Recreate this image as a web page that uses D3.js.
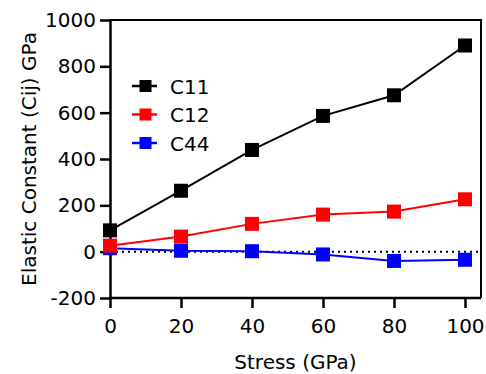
<!DOCTYPE html>
<html>
<head>
<meta charset="utf-8">
<script src="https://cdn.jsdelivr.net/npm/d3@7"></script>
<style>
  html, body { margin: 0; padding: 0; background: #fff; }
  svg { display: block; font-family: "DejaVu Sans", Verdana, sans-serif; }
</style>
</head>
<body>
<svg id="chart" width="486" height="374"></svg>
<script>
// Stress levels (GPa)
const stress = [0, 20, 40, 60, 80, 100];
// Elastic constants (GPa) at each stress level
const c11 = [92, 263, 439, 586, 675, 890];
const c12 = [26, 65, 120, 160, 173, 226];
const c44 = [15, 4, 2, -12, -40, -35];

const xTicks = [0, 20, 40, 60, 80, 100];
const yTicks = [-200, 0, 200, 400, 600, 800, 1000];

const series = [
  { name: "C11", values: c11, color: "#000000" },
  { name: "C12", values: c12, color: "#ff0000" },
  { name: "C44", values: c44, color: "#0000ff" }
];

const svg = d3.select("#chart");
const plotLeft = 110, plotRight = 481, plotTop = 20, plotBottom = 298;

const x = d3.scaleLinear().domain([0, 100]).range([plotLeft, 465]);
const y = d3.scaleLinear().domain([-200, 1000]).range([plotBottom, plotTop]);

// plain integer labels with an ASCII hyphen for negatives
const plain = d => String(d);

// frame: top and right edges
svg.append("path")
  .attr("d", `M${plotLeft},${plotTop}H${plotRight}V${plotBottom}`)
  .attr("fill", "none").attr("stroke", "#000").attr("stroke-width", 2);

// dotted zero line
svg.append("line")
  .attr("x1", plotLeft).attr("x2", plotRight)
  .attr("y1", y(0)).attr("y2", y(0))
  .attr("stroke", "#000").attr("stroke-width", 2)
  .attr("stroke-dasharray", "2,4");

// axes
const xAxis = svg.append("g")
  .attr("transform", `translate(0,${plotBottom})`)
  .call(d3.axisBottom(x).tickValues(xTicks).tickFormat(plain)
    .tickSize(10).tickPadding(11).tickSizeOuter(0));
xAxis.select(".domain").attr("d", `M${plotLeft},0H${plotRight}`);

const yAxis = svg.append("g")
  .attr("transform", `translate(${plotLeft},0)`)
  .call(d3.axisLeft(y).tickValues(yTicks).tickFormat(plain)
    .tickSize(10).tickPadding(4).tickSizeOuter(0));

svg.selectAll(".domain").attr("stroke-width", 2.5);
svg.selectAll(".tick line").attr("stroke-width", 2.5);
svg.selectAll(".tick text").attr("font-size", 20).attr("font-family", "DejaVu Sans").attr("fill", "#000");

// axis titles
svg.append("text")
  .attr("x", (plotLeft + plotRight) / 2).attr("y", 369)
  .attr("text-anchor", "middle").attr("font-size", 20)
  .text("Stress (GPa)");

svg.append("text")
  .attr("transform", `translate(36,${(plotTop + plotBottom) / 2}) rotate(-90)`)
  .attr("text-anchor", "middle").attr("font-size", 20)
  .text("Elastic Constant (Cij) GPa");

// series lines and markers (drawn last-to-first so C11 sits on top)
const line = d3.line().x((d, i) => x(stress[i])).y(d => y(d));
const ms = 14;
series.slice().reverse().forEach(s => {
  const g = svg.append("g");
  g.append("path").attr("d", line(s.values))
    .attr("fill", "none").attr("stroke", s.color).attr("stroke-width", 2);
  g.selectAll("rect").data(s.values).join("rect")
    .attr("x", (d, i) => x(stress[i]) - ms / 2)
    .attr("y", d => y(d) - ms / 2)
    .attr("width", ms).attr("height", ms)
    .attr("fill", s.color);
});

// legend
const legend = svg.append("g");
series.forEach((s, i) => {
  const ly = 86 + i * 28.5;
  legend.append("line").attr("x1", 132).attr("x2", 157).attr("y1", ly).attr("y2", ly)
    .attr("stroke", s.color).attr("stroke-width", 2.5);
  legend.append("rect").attr("x", 139.5).attr("y", ly - 6).attr("width", 12).attr("height", 12)
    .attr("fill", s.color);
  legend.append("text").attr("x", 170).attr("y", ly + 7.5)
    .attr("font-size", 20).text(s.name);
});
</script>
</body>
</html>
